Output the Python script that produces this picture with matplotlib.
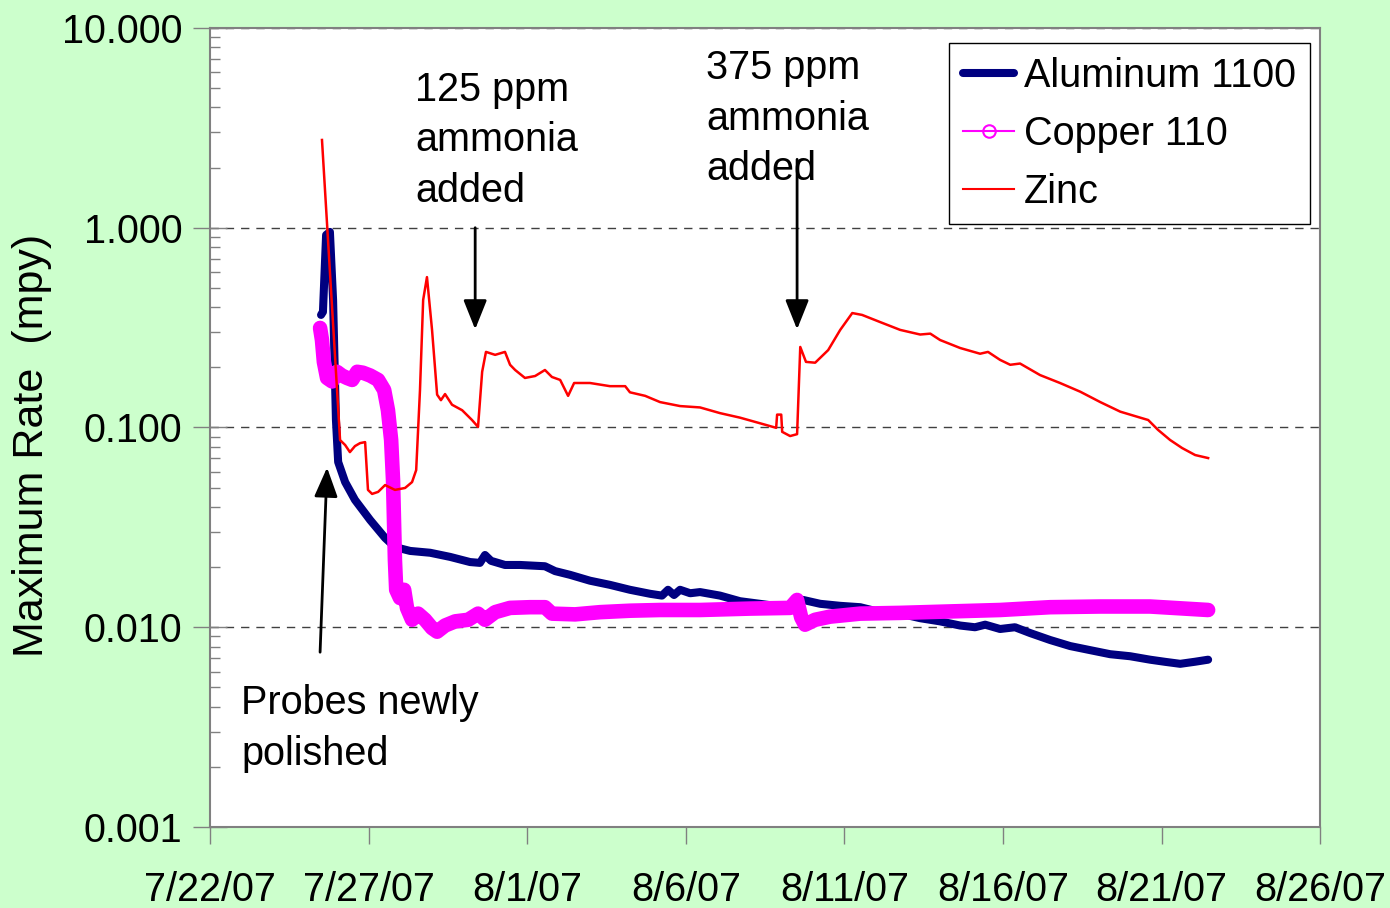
import matplotlib
matplotlib.use('Agg')
from matplotlib import pyplot as plt
from matplotlib.lines import Line2D
import matplotlib.dates as mdates
import matplotlib.ticker as mticker
import pandas as pd

plt.rcParams['font.family'] = ['Liberation Sans', 'DejaVu Sans']
plt.rcParams['figure.dpi'] = 100

START = pd.Timestamp('2007-07-22')

# days after 7/22/07 and maximum rate (mpy)
ZN_DAYS = [3.53, 4.10, 4.26, 4.41, 4.57, 4.73, 4.89, 4.98, 5.11, 5.30, 5.52, 5.83, 6.15, 6.37,
           6.50, 6.62, 6.72, 6.84, 7.00, 7.16, 7.28, 7.41, 7.63, 7.95, 8.26, 8.45, 8.58, 8.70,
           8.99, 9.30, 9.46, 9.62, 9.93, 10.25, 10.56, 10.78, 11.04, 11.29, 11.48, 11.98, 12.61,
           13.09, 13.24, 13.72, 14.19, 14.82, 15.45, 16.08, 16.71, 17.34, 17.85, 17.88, 18.01,
           18.04, 18.29, 18.51, 18.61, 18.79, 19.08, 19.49, 19.87, 20.25, 20.56, 21.13, 21.76,
           22.39, 22.71, 23.02, 23.65, 24.28, 24.53, 24.91, 25.23, 25.54, 26.17, 26.80, 27.44,
           28.07, 28.70, 29.33, 29.58, 29.89, 30.27, 30.65, 31.06, 31.47]
ZN_RATE = [2.75, 0.0865, 0.0817, 0.0753, 0.0807, 0.0835, 0.0845, 0.0487, 0.0465, 0.0476, 0.0515,
           0.0487, 0.0498, 0.0533, 0.0612, 0.154, 0.435, 0.566, 0.308, 0.146, 0.137, 0.147, 0.130,
           0.122, 0.109, 0.1007, 0.190, 0.239, 0.231, 0.239, 0.206, 0.194, 0.177, 0.181, 0.194,
           0.179, 0.173, 0.144, 0.167, 0.167, 0.161, 0.161, 0.150, 0.144, 0.134, 0.128, 0.126,
           0.118, 0.112, 0.105, 0.0996, 0.116, 0.116, 0.0951, 0.0906, 0.0926, 0.253, 0.213, 0.211,
           0.244, 0.308, 0.374, 0.366, 0.337, 0.308, 0.292, 0.295, 0.274, 0.250, 0.234, 0.239,
           0.218, 0.206, 0.209, 0.183, 0.167, 0.151, 0.134, 0.120, 0.112, 0.109, 0.0973, 0.0866,
           0.0789, 0.0728, 0.0703]

AL_DAYS = [3.50, 3.56, 3.66, 3.78, 3.88, 3.97, 4.04, 4.26, 4.57, 5.05, 5.52, 5.83, 6.31, 6.94,
           7.57, 8.20, 8.51, 8.67, 8.86, 9.30, 9.78, 10.56, 10.88, 11.35, 11.98, 12.61, 13.24,
           13.88, 14.25, 14.44, 14.63, 14.82, 15.14, 15.45, 16.08, 16.71, 17.34, 17.97, 18.51,
           18.70, 19.24, 19.87, 20.50, 21.13, 21.76, 22.39, 23.02, 23.65, 24.12, 24.44, 24.91,
           25.38, 25.86, 26.49, 27.12, 27.75, 28.38, 29.01, 29.64, 30.12, 30.59, 31.06, 31.47]
AL_RATE = [0.366, 0.379, 0.920, 0.953, 0.435, 0.109, 0.0672, 0.0533, 0.0434, 0.0344, 0.0280,
           0.0252, 0.0241, 0.0236, 0.0225, 0.0212, 0.0210, 0.0230, 0.0215, 0.0205, 0.0205, 0.0202,
           0.0191, 0.0183, 0.0171, 0.0163, 0.0154, 0.0147, 0.0144, 0.0154, 0.0145, 0.0154, 0.0148,
           0.0150, 0.0144, 0.0135, 0.0131, 0.0127, 0.0128, 0.0137, 0.0131, 0.0128, 0.0126, 0.0119,
           0.0117, 0.0111, 0.0107, 0.0102, 0.0100, 0.0103, 0.0098, 0.0100, 0.00935, 0.00863,
           0.00805, 0.00768, 0.00733, 0.00716, 0.00688, 0.00671, 0.00656, 0.00672, 0.00688]

CU_DAYS = [3.47, 3.53, 3.59, 3.69, 3.85, 4.00, 4.16, 4.32, 4.48, 4.64, 4.82, 5.05, 5.30, 5.49,
           5.61, 5.71, 5.77, 5.80, 5.83, 5.87, 5.99, 6.12, 6.21, 6.37, 6.56, 6.78, 7.00, 7.16,
           7.41, 7.73, 8.14, 8.45, 8.67, 8.99, 9.46, 10.09, 10.56, 10.78, 11.51, 12.30, 13.24,
           14.19, 15.45, 17.03, 18.29, 18.51, 18.64, 18.76, 19.08, 19.55, 20.50, 21.76, 23.34,
           24.91, 26.49, 28.07, 29.64, 31.47]
CU_RATE = [0.315, 0.274, 0.213, 0.177, 0.170, 0.190, 0.182, 0.177, 0.173, 0.190, 0.188, 0.182,
           0.173, 0.154, 0.122, 0.0866, 0.0546, 0.0344, 0.0217, 0.0154, 0.0140, 0.0154, 0.0125,
           0.0109, 0.0117, 0.0109, 0.0099, 0.0095, 0.0102, 0.0107, 0.0109, 0.0117, 0.0109, 0.0119,
           0.0125, 0.0126, 0.0126, 0.0117, 0.0116, 0.0119, 0.0121, 0.0122, 0.0122, 0.0124, 0.0125,
           0.0137, 0.0112, 0.0103, 0.0109, 0.0113, 0.0117, 0.0118, 0.0120, 0.0122, 0.0126, 0.0127,
           0.0127, 0.0122]

Y_TICKS = [0.001, 0.01, 0.1, 1, 10]
X_TICK_DAYS = [0, 5, 10, 15, 20, 25, 30, 35]

FS = 28.5


def to_dates(days):
    return START + pd.to_timedelta(days, unit='D')


fig = plt.figure(figsize=(13.9, 9.08), facecolor='#CCFFCC')
ax = fig.add_axes([0.1511, 0.0892, 0.7986, 0.8800])
ax.set_facecolor('white')

ax.plot(to_dates(AL_DAYS), AL_RATE, color='#000080', lw=5.8, solid_joinstyle='round',
        solid_capstyle='round', zorder=3)
ax.plot(to_dates(CU_DAYS), CU_RATE, color='#FF00FF', lw=10.5, solid_joinstyle='round',
        solid_capstyle='round', zorder=4)
ax.plot(to_dates(ZN_DAYS), ZN_RATE, color='#FF0000', lw=1.8, zorder=5)

ax.set_yscale('log')
ax.set_ylim(0.001, 10)
ax.set_xlim(to_dates([0])[0], to_dates([35])[0])
ax.set_yticks(Y_TICKS)
ax.yaxis.set_major_formatter(mticker.FuncFormatter(lambda v, p: f'{v:.3f}'))
ax.yaxis.set_minor_locator(mticker.LogLocator(base=10, subs=range(2, 10)))
ax.yaxis.set_minor_formatter(mticker.NullFormatter())
ax.set_xticks(to_dates(X_TICK_DAYS))
ax.xaxis.set_major_formatter(mticker.FuncFormatter(
    lambda v, p: f'{mdates.num2date(v).month}/{mdates.num2date(v).day}/07'))

ax.tick_params(axis='y', which='major', direction='inout', length=24, width=1,
               color='#808080', labelsize=FS, pad=8)
ax.tick_params(axis='y', which='minor', direction='in', length=7, width=1, color='#808080')
ax.tick_params(axis='x', which='major', direction='out', length=12, width=1,
               color='#808080', labelsize=FS, pad=20)
for s in ax.spines.values():
    s.set_color('#808080')
    s.set_linewidth(1.5)

ax.grid(axis='y', which='major', color='#404040', linestyle=(0, (6, 5)), lw=1)
ax.set_ylabel('Maximum Rate  (mpy)', fontsize=31)
ax.yaxis.set_label_coords(-0.142, 0.478)

arrow = dict(arrowstyle='-|>,head_width=0.4,head_length=1.0', color='black', lw=2,
             mutation_scale=18, shrinkA=0, shrinkB=0)
ax.annotate('', xy=(to_dates([8.36])[0], 0.31), xytext=(to_dates([8.36])[0], 1.0),
            arrowprops=arrow, zorder=6)
ax.annotate('', xy=(to_dates([18.51])[0], 0.31), xytext=(to_dates([18.51])[0], 2.2),
            arrowprops=arrow, zorder=6)
ax.annotate('', xy=(to_dates([3.69])[0], 0.063), xytext=(to_dates([3.47])[0], 0.0075),
            arrowprops=arrow, zorder=6)

ax.text(to_dates([6.46])[0], 6.1, '125 ppm\nammonia\nadded', fontsize=FS, va='top',
        ha='left', linespacing=1.42, zorder=7)
ax.text(to_dates([15.64])[0], 7.85, '375 ppm\nammonia\nadded', fontsize=FS, va='top',
        ha='left', linespacing=1.42, zorder=7)
ax.text(to_dates([0.98])[0], 0.0052, 'Probes newly\npolished', fontsize=FS, va='top',
        ha='left', linespacing=1.42, zorder=7)

handles = [Line2D([], [], color='#000080', lw=5.8, solid_capstyle='round'),
           Line2D([], [], color='#FF00FF', lw=1.5, marker='o', mfc='none', mec='#FF00FF',
                  ms=9, mew=1.5),
           Line2D([], [], color='#FF0000', lw=1.5)]
leg = ax.legend(handles, ['Aluminum 1100', 'Copper 110', 'Zinc'], loc='upper right',
                bbox_to_anchor=(0.991, 0.981), borderaxespad=0, fontsize=FS,
                fancybox=False, edgecolor='black', framealpha=1, handlelength=1.3,
                handletextpad=0.25, labelspacing=0.5, borderpad=0.35)
leg.get_frame().set_linewidth(1)
leg.set_zorder(8)

fig.savefig('out.png', dpi=100, facecolor=fig.get_facecolor())
